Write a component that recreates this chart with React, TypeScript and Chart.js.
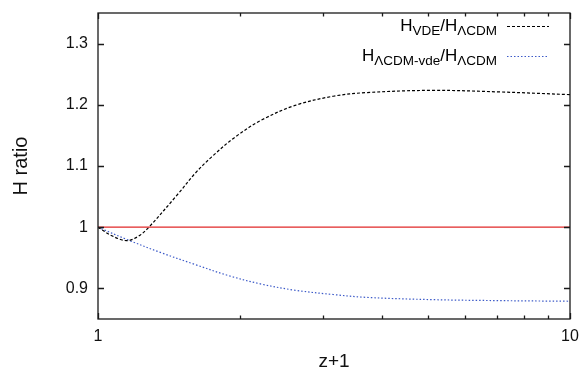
import React, { useEffect, useRef } from "react";
import { Chart, registerables } from "chart.js";

Chart.register(...registerables);

// ---- data ----
const vdeX = [1, 1.07, 1.15, 1.217, 1.278, 1.48, 1.606, 1.742, 1.95, 2.22, 2.615, 3.15, 3.71, 5.13, 7.11, 10];
const vdeY = [1.0, 0.986, 0.978, 0.985, 0.999, 1.055, 1.088, 1.115, 1.147, 1.175, 1.199, 1.214, 1.22, 1.2236, 1.221, 1.2166];

const lvdeX = [1, 1.159, 1.364, 1.606, 1.888, 2.22, 2.615, 3.15, 3.71, 5.13, 7.11, 10];
const lvdeY = [1.0, 0.979, 0.958, 0.939, 0.921, 0.907, 0.897, 0.89, 0.8853, 0.8816, 0.88, 0.879];

const refX = [1, 10];
const refY = [1, 1];

const yTicks = [0.9, 1, 1.1, 1.2, 1.3];
const xTicks = [1, 2, 3, 4, 5, 6, 7, 8, 9, 10];
const xLabeled = [1, 10];

const FONT = "'Liberation Sans', Arial, Helvetica, sans-serif";

const zip = (xs: number[], ys: number[]) => xs.map((x, i) => ({ x, y: ys[i] }));

const legendRows = [
  {
    parts: [
      { t: "H" },
      { t: "VDE", sub: true },
      { t: "/H" },
      { t: "ΛCDM", sub: true },
    ],
    color: "#000000",
    dash: [3, 2],
  },
  {
    parts: [
      { t: "H" },
      { t: "ΛCDM-vde", sub: true },
      { t: "/H" },
      { t: "ΛCDM", sub: true },
    ],
    color: "rgb(60,90,200)",
    dash: [1.5, 2],
  },
];

const framePlugin = {
  id: "frame",
  afterDraw(chart: any) {
    const { ctx, chartArea } = chart;
    const { left, right, top, bottom } = chartArea;
    const xs = chart.scales.x;
    const ys = chart.scales.y;
    ctx.save();
    ctx.strokeStyle = "#1a1a1a";
    ctx.lineWidth = 1.3;
    ctx.setLineDash([]);
    ctx.strokeRect(left, top, right - left, bottom - top);
    ctx.beginPath();
    for (const v of yTicks) {
      const py = Math.round(ys.getPixelForValue(v)) + 0.5;
      ctx.moveTo(left, py);
      ctx.lineTo(left + 6, py);
      ctx.moveTo(right, py);
      ctx.lineTo(right - 6, py);
    }
    for (const v of xTicks) {
      const px = Math.round(xs.getPixelForValue(v)) + 0.5;
      const len = xLabeled.includes(v) ? 6 : 3.5;
      ctx.moveTo(px, bottom);
      ctx.lineTo(px, bottom - len);
      ctx.moveTo(px, top);
      ctx.lineTo(px, top + len);
    }
    ctx.stroke();

    // legend
    const mainSize = 17;
    const subSize = 13.5;
    const textRight = 497;
    const baselines = [31, 61];
    legendRows.forEach((row, i) => {
      let total = 0;
      for (const p of row.parts) {
        ctx.font = `${p.sub ? subSize : mainSize}px ${FONT}`;
        total += ctx.measureText(p.t).width;
      }
      let x = textRight - total;
      ctx.fillStyle = "#000";
      ctx.textBaseline = "alphabetic";
      ctx.textAlign = "left";
      for (const p of row.parts) {
        ctx.font = `${p.sub ? subSize : mainSize}px ${FONT}`;
        ctx.fillText(p.t, x, baselines[i] + (p.sub ? 4 : 0));
        x += ctx.measureText(p.t).width;
      }
      const ly = baselines[i] - 4.5;
      ctx.beginPath();
      ctx.strokeStyle = row.color;
      ctx.lineWidth = 1;
      ctx.setLineDash(row.dash);
      ctx.moveTo(507, ly);
      ctx.lineTo(549, ly);
      ctx.stroke();
    });
    ctx.restore();
  },
};

export default function App() {
  const ref = useRef<HTMLCanvasElement | null>(null);
  useEffect(() => {
    if (!ref.current) return;
    const chart = new Chart(ref.current, {
      type: "line",
      data: {
        datasets: [
          {
            label: "ref",
            data: zip(refX, refY),
            borderColor: "rgb(225,40,40)",
            borderWidth: 1.2,
            pointRadius: 0,
            fill: false,
          },
          {
            label: "H_VDE/H_ΛCDM",
            data: zip(vdeX, vdeY),
            borderColor: "#000000",
            borderWidth: 1.2,
            borderDash: [3, 2],
            pointRadius: 0,
            fill: false,
            tension: 0.35,
          },
          {
            label: "H_ΛCDM-vde/H_ΛCDM",
            data: zip(lvdeX, lvdeY),
            borderColor: "rgb(60,90,200)",
            borderWidth: 1.2,
            borderDash: [1.5, 2],
            pointRadius: 0,
            fill: false,
            tension: 0.35,
          },
        ],
      },
      options: {
        animation: false,
        responsive: false,
        devicePixelRatio: 1,
        layout: { padding: { top: 13, right: 15, left: 0, bottom: 0 } },
        plugins: {
          legend: { display: false },
          tooltip: { enabled: false },
        },
        scales: {
          x: {
            type: "logarithmic",
            min: 1,
            max: 10,
            afterFit: (s: any) => {
              s.height = 50;
              s.paddingLeft = 0;
              s.paddingRight = 0;
            },
            afterBuildTicks: (s: any) => {
              s.ticks = xTicks.map((v) => ({ value: v, major: xLabeled.includes(v) }));
            },
            grid: { display: false, drawTicks: false },
            border: { display: false },
            ticks: {
              autoSkip: false,
              maxRotation: 0,
              padding: 8,
              color: "#111",
              font: { family: FONT, size: 16 },
              callback: (v: any) => (xLabeled.includes(Number(v)) ? String(v) : ""),
            },
            title: {
              display: true,
              text: "z+1",
              color: "#111",
              font: { family: FONT, size: 19, lineHeight: 0.75 },
              padding: { top: 0, bottom: 0 },
            },
          },
          y: {
            type: "linear",
            min: 0.85,
            max: 1.35,
            afterFit: (s: any) => {
              s.width = 98;
              s.paddingTop = 0;
              s.paddingBottom = 0;
            },
            afterBuildTicks: (s: any) => {
              s.ticks = yTicks.map((v) => ({ value: v }));
            },
            grid: { display: false, drawTicks: false },
            border: { display: false },
            ticks: {
              padding: 10,
              color: "#111",
              font: { family: FONT, size: 16 },
              callback: (v: any) => String(Math.round(Number(v) * 10) / 10),
            },
            title: {
              display: true,
              text: "H ratio",
              color: "#111",
              font: { family: FONT, size: 20, lineHeight: 1 },
              padding: { top: 11, bottom: 0 },
            },
          },
        },
      },
      plugins: [framePlugin],
    });
    return () => chart.destroy();
  }, []);
  return (
    <div style={{ position: "fixed", left: 0, top: 0, width: 585, height: 369, background: "#fff" }}>
      <canvas ref={ref} width={585} height={369} style={{ width: 585, height: 369, display: "block" }} />
    </div>
  );
}
